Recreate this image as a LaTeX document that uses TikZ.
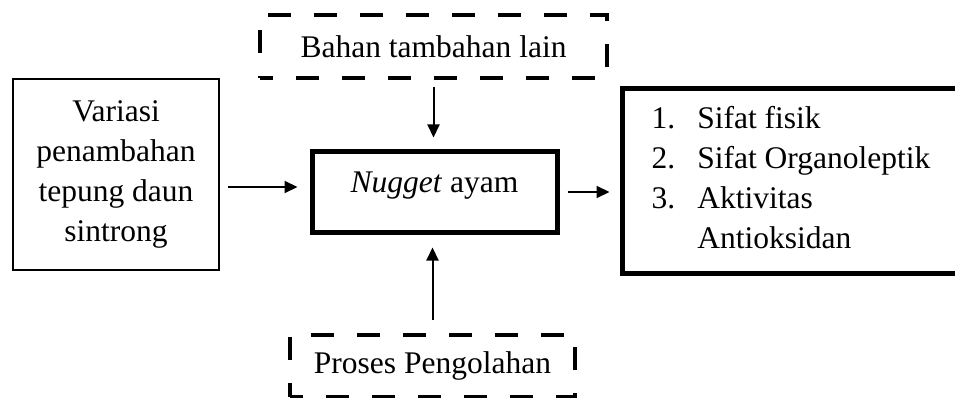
\documentclass[tikz,border=0pt]{standalone}
\usepackage{fontspec}
\setmainfont{Liberation Serif}
\usetikzlibrary{arrows.meta}
\begin{document}
\begin{tikzpicture}[x=1pt,y=-1pt,
  every node/.style={font=\fontsize{31.5}{40}\selectfont, inner sep=0pt},
  plainbox/.style={draw, line width=2pt, align=center},
  boldbox/.style={draw, line width=5pt},
  dashbox/.style={draw, line width=4pt, dash pattern=on 23pt off 23pt, dash phase=10pt},
  arr/.style={line width=2pt, -{Triangle[length=13pt,width=12pt]}}]
\useasboundingbox (0,0) rectangle (955,398);
\clip (0,0) rectangle (955,398);

% boxes
\node[dashbox, minimum width=347pt, minimum height=63pt] (extra) at (433.5,46.5) {Bahan tambahan lain};
\node[plainbox, minimum width=206pt, minimum height=191pt] (var) at (116,174.5)
  {Variasi\\penambahan\\tepung daun\\sintrong};
\node[boldbox, minimum width=245pt, minimum height=80pt, text height=21pt, text depth=19pt] (nug) at (434.5,192)
  {\textit{Nugget} ayam};
\node[boldbox, minimum width=338pt, minimum height=184pt] (res) at (791,181)
  {\begin{tabular}{@{}l@{\hspace{22pt}}l@{}}
   1. & Sifat fisik\\
   2. & Sifat Organoleptik\\
   3. & Aktivitas\\
      & Antioksidan
   \end{tabular}};
\node[dashbox, minimum width=285pt, minimum height=62pt] (proc) at (432.5,366) {Proses Pengolahan};

% connectors
\coordinate (lr) at (0,187);
\draw[arr, shorten <=7pt, shorten >=12pt] (extra.south) -- (extra.south |- nug.north);
\draw[arr, shorten <=8pt, shorten >=12pt] (var.east |- lr) -- (nug.west |- lr);
\draw[arr, shorten <=8pt, shorten >=10pt] (nug.east) -- (res.west |- nug.east);
\draw[arr, shorten <=13pt, shorten >=13pt] (proc.north) -- (proc.north |- nug.south);
\end{tikzpicture}
\end{document}
